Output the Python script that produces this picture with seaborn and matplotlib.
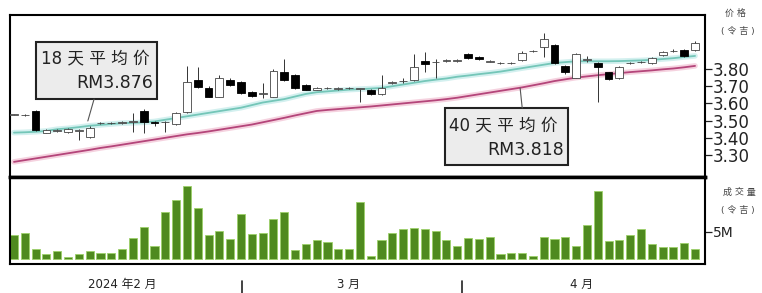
import numpy as np
import pandas as pd
import matplotlib
matplotlib.use("Agg")
import matplotlib.pyplot as plt
import matplotlib.transforms as mtransforms
from matplotlib.patches import Rectangle
import seaborn as sns

# Données (cours journaliers, RM)
opens = [3.535, 3.530, 3.556, 3.430, 3.440, 3.435, 3.440, 3.405,
         3.485, 3.484, 3.485, 3.490, 3.556, 3.490, 3.490, 3.480,
         3.550, 3.735, 3.690, 3.640, 3.735, 3.725, 3.665, 3.655,
         3.640, 3.780, 3.765, 3.705, 3.680, 3.688, 3.685, 3.688,
         3.685, 3.680, 3.655, 3.718, 3.728, 3.735, 3.845, 3.838,
         3.845, 3.848, 3.890, 3.870, 3.843, 3.833, 3.833, 3.850,
         3.903, 3.930, 3.940, 3.820, 3.750, 3.853, 3.835, 3.780,
         3.745, 3.833, 3.838, 3.835, 3.880, 3.903, 3.910, 3.910]
closes = [3.535, 3.535, 3.445, 3.445, 3.445, 3.450, 3.442, 3.457,
          3.488, 3.486, 3.489, 3.495, 3.490, 3.487, 3.492, 3.545,
          3.725, 3.695, 3.640, 3.750, 3.707, 3.660, 3.645, 3.660,
          3.790, 3.735, 3.690, 3.680, 3.690, 3.692, 3.688, 3.692,
          3.688, 3.655, 3.690, 3.722, 3.732, 3.810, 3.830, 3.842,
          3.855, 3.852, 3.865, 3.860, 3.847, 3.837, 3.837, 3.895,
          3.907, 3.975, 3.835, 3.780, 3.890, 3.857, 3.810, 3.740,
          3.810, 3.837, 3.842, 3.865, 3.900, 3.907, 3.875, 3.950]
highs = [3.540, 3.540, 3.560, 3.450, 3.450, 3.455, 3.450, 3.470,
         3.492, 3.490, 3.495, 3.545, 3.565, 3.495, 3.500, 3.550,
         3.820, 3.810, 3.700, 3.765, 3.750, 3.730, 3.670, 3.720,
         3.800, 3.860, 3.770, 3.710, 3.695, 3.697, 3.693, 3.697,
         3.692, 3.685, 3.765, 3.730, 3.745, 3.890, 3.900, 3.860,
         3.860, 3.860, 3.895, 3.875, 3.850, 3.840, 3.842, 3.905,
         3.912, 4.010, 3.945, 3.825, 3.895, 3.875, 3.840, 3.785,
         3.815, 3.842, 3.848, 3.870, 3.905, 3.915, 3.915, 3.960]
lows = [3.530, 3.525, 3.440, 3.425, 3.435, 3.430, 3.390, 3.400,
        3.480, 3.478, 3.480, 3.435, 3.430, 3.470, 3.435, 3.475,
        3.545, 3.690, 3.635, 3.635, 3.700, 3.655, 3.640, 3.630,
        3.635, 3.730, 3.685, 3.675, 3.675, 3.683, 3.680, 3.683,
        3.610, 3.650, 3.650, 3.715, 3.720, 3.730, 3.780, 3.750,
        3.840, 3.843, 3.860, 3.855, 3.838, 3.830, 3.830, 3.845,
        3.898, 3.870, 3.830, 3.770, 3.745, 3.840, 3.610, 3.735,
        3.740, 3.830, 3.835, 3.830, 3.875, 3.900, 3.870, 3.905]

# Moyennes mobiles 18 et 40 jours
ma18 = [3.430, 3.432, 3.435, 3.440, 3.450, 3.455, 3.462, 3.470,
        3.475, 3.480, 3.485, 3.487, 3.490, 3.495, 3.505, 3.515,
        3.525, 3.535, 3.545, 3.555, 3.565, 3.575, 3.590, 3.605,
        3.615, 3.625, 3.640, 3.655, 3.665, 3.670, 3.675, 3.680,
        3.683, 3.686, 3.690, 3.700, 3.710, 3.720, 3.730, 3.738,
        3.745, 3.755, 3.762, 3.770, 3.777, 3.785, 3.795, 3.805,
        3.815, 3.825, 3.835, 3.840, 3.845, 3.845, 3.845, 3.845,
        3.846, 3.848, 3.850, 3.853, 3.858, 3.863, 3.870, 3.876]
ma40 = [3.260, 3.270, 3.280, 3.290, 3.300, 3.310, 3.320, 3.330,
        3.341, 3.350, 3.360, 3.370, 3.380, 3.390, 3.400, 3.410,
        3.420, 3.428, 3.437, 3.447, 3.457, 3.467, 3.477, 3.490,
        3.503, 3.516, 3.530, 3.543, 3.556, 3.562, 3.567, 3.572,
        3.577, 3.582, 3.588, 3.594, 3.600, 3.606, 3.612, 3.618,
        3.625, 3.633, 3.643, 3.653, 3.663, 3.673, 3.683, 3.693,
        3.705, 3.717, 3.730, 3.740, 3.750, 3.757, 3.764, 3.770,
        3.776, 3.782, 3.787, 3.792, 3.798, 3.803, 3.810, 3.818]

# Volume (millions)
volume_m = [4.3, 4.8, 1.85, 0.93, 1.36, 0.4, 0.93, 1.36,
            1.1, 1.1, 1.85, 3.8, 5.9, 2.35, 8.6, 10.7,
            13.3, 9.4, 4.3, 5.1, 3.7, 8.3, 4.5, 4.8,
            7.3, 8.6, 1.55, 2.65, 3.4, 3.1, 1.85, 1.85,
            10.5, 0.45, 3.4, 4.8, 5.4, 5.7, 5.55, 5.1,
            3.4, 2.35, 3.8, 3.6, 4.1, 0.93, 1.1, 1.1,
            0.6, 4.1, 3.6, 4.1, 2.3, 6.3, 12.5, 3.3,
            3.4, 4.4, 5.55, 2.65, 2.15, 2.15, 2.9, 1.85]

price_ticks = [3.30, 3.40, 3.50, 3.60, 3.70, 3.80]
month_labels = ["2024 年2 月", "3 月", "4 月"]
month_label_pos = [10.0, 30.9, 52.5]
month_breaks = [21.1, 41.4]
ma18_label = ["18 天 平 均 价", "RM3.876"]
ma40_label = ["40 天 平 均 价", "RM3.818"]

# Style
sns.set_theme(style="white")
plt.rcParams['font.family'] = ['DejaVu Sans', 'Noto Sans CJK SC']
ink = "#222222"

df = pd.DataFrame({"open": opens, "high": highs, "low": lows, "close": closes,
                   "ma18": ma18, "ma40": ma40, "vol": volume_m})
df["idx"] = np.arange(len(df))
df["up"] = df["close"] >= df["open"]
df["body_bottom"] = df[["open", "close"]].min(axis=1)
df["body_h"] = (df["close"] - df["open"]).abs().clip(lower=0.003)

fig = plt.figure(figsize=(7.62, 2.93), dpi=100)
ax_p = fig.add_axes([0.0131, 0.3959, 0.9121, 0.5529])
ax_v = fig.add_axes([0.0131, 0.099, 0.9121, 0.2969])

# Moyennes mobiles (halo + trait)
sns.lineplot(data=df, x="idx", y="ma18", ax=ax_p, color="#d3f0ef", lw=4, zorder=1)
sns.lineplot(data=df, x="idx", y="ma18", ax=ax_p, color="#74c6b8", lw=1.3, zorder=2)
sns.lineplot(data=df, x="idx", y="ma40", ax=ax_p, color="#f5d2df", lw=4, zorder=1)
sns.lineplot(data=df, x="idx", y="ma40", ax=ax_p, color="#b4457a", lw=1.3, zorder=2)

# Chandeliers
ax_p.vlines(df["idx"], df["low"], df["high"], color="#333333", lw=0.7, zorder=3)
up = df[df["up"]]
down = df[~df["up"]]
ax_p.bar(up["idx"], up["body_h"], bottom=up["body_bottom"], width=0.72,
         facecolor="white", edgecolor="#444444", lw=0.6, zorder=4)
ax_p.bar(down["idx"], down["body_h"], bottom=down["body_bottom"], width=0.72,
         facecolor="black", edgecolor="black", lw=0.6, zorder=4)

ax_p.set_xlim(-0.37, 63.92)
ax_p.set_ylim(3.172, 4.114)
ax_p.set_xticks([])
ax_p.yaxis.tick_right()
ax_p.set_yticks(price_ticks)
ax_p.set_yticklabels([f"{v:.2f}" for v in price_ticks])
ax_p.tick_params(axis="y", right=True, left=False, length=5, width=0.9,
                 pad=0.5, labelsize=12, color=ink, labelcolor=ink)
ax_p.set_xlabel("")
ax_p.set_ylabel("")
for side, sp in ax_p.spines.items():
    sp.set_color("black")
    sp.set_linewidth(2.5 if side == "bottom" else 1.5)

# Encadrés des moyennes
for (x0, y0, w, h) in [(0.0374, 0.481, 0.1741, 0.352), (0.626, 0.074, 0.177, 0.352)]:
    ax_p.add_patch(Rectangle((x0, y0), w, h, transform=ax_p.transAxes,
                             facecolor="#ececec", edgecolor=ink, lw=1.5, zorder=5))
ax_p.text(0.0446, 0.735, ma18_label[0], transform=ax_p.transAxes, ha="left", va="center",
          fontsize=12, color=ink, zorder=6)
ax_p.text(0.2058, 0.580, ma18_label[1], transform=ax_p.transAxes, ha="right", va="center",
          fontsize=12.5, color=ink, zorder=6)
ax_p.text(0.632, 0.321, ma40_label[0], transform=ax_p.transAxes, ha="left", va="center",
          fontsize=12, color=ink, zorder=6)
ax_p.text(0.797, 0.167, ma40_label[1], transform=ax_p.transAxes, ha="right", va="center",
          fontsize=12.5, color=ink, zorder=6)
ax_p.plot([0.121, 0.112], [0.481, 0.346], transform=ax_p.transAxes, color="#555555", lw=0.8, zorder=5)
ax_p.plot([0.737, 0.734], [0.426, 0.549], transform=ax_p.transAxes, color="#555555", lw=0.8, zorder=5)

# Volume
sns.barplot(x=df["idx"], y=df["vol"], ax=ax_v, color="#4f8a1f", saturation=1,
            width=0.75, errorbar=None, edgecolor="#9dd06a", linewidth=0.6)
ax_v.set_xlim(-0.37, 63.92)
ax_v.set_ylim(-0.93, 15.0)
ax_v.set_xticks([])
ax_v.set_xlabel("")
ax_v.set_ylabel("")
ax_v.yaxis.tick_right()
ax_v.set_yticks([5])
ax_v.set_yticklabels(["5M"])
ax_v.tick_params(axis="y", right=True, left=False, length=5, width=0.9,
                 pad=0.5, labelsize=10, color=ink, labelcolor=ink)
for side, sp in ax_v.spines.items():
    sp.set_color("black")
    sp.set_linewidth(2.5 if side == "top" else 1.5)

# Mois sous l'axe
trans = mtransforms.blended_transform_factory(ax_v.transData, ax_v.transAxes)
for lab, pos in zip(month_labels, month_label_pos):
    ax_v.text(pos, -0.235, lab, transform=trans, ha="center", va="center",
              fontsize=8.5, color=ink, clip_on=False)
for xb in month_breaks:
    ax_v.axvline(xb, ymin=-0.33, ymax=-0.19, color=ink, lw=1.2, clip_on=False)

# Unités à droite
fig.text(0.9646, 0.956, "价 格", ha="center", va="center", fontsize=6.5, color="#444444")
fig.text(0.9685, 0.894, "( 令 吉 )", ha="center", va="center", fontsize=6.5, color="#444444")
fig.text(0.970, 0.345, "成 交 量", ha="center", va="center", fontsize=6.5, color="#444444")
fig.text(0.9685, 0.282, "( 令 吉 )", ha="center", va="center", fontsize=6.5, color="#444444")

fig.savefig("out.png", dpi=100)
